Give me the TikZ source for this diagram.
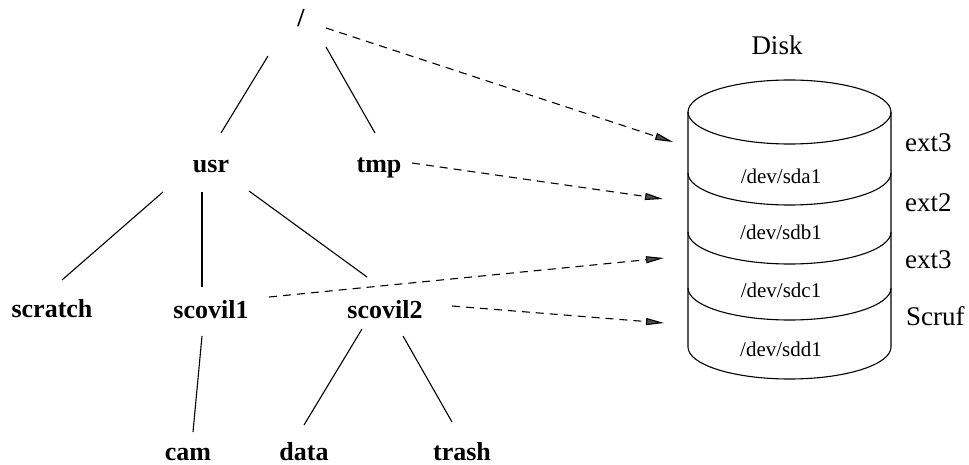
\documentclass[tikz,border=0pt]{standalone}
\usepackage{fontspec}
\setmainfont{Liberation Serif}
\usetikzlibrary{arrows.meta}
\begin{document}
\begin{tikzpicture}[x=1pt,y=-1pt,
  dir/.style={font=\bfseries\fontsize{26}{30}\selectfont, inner sep=0pt, anchor=base},
  part/.style={font=\fontsize{21}{25}\selectfont, inner sep=0pt, anchor=base},
  fstype/.style={font=\fontsize{27}{31}\selectfont, inner sep=0pt, anchor=base west},
  edge/.style={line width=1.1pt},
  diskline/.style={line width=1.1pt},
  mount/.style={line width=1.1pt, dash pattern=on 8pt off 6pt,
    -{Triangle[length=18pt,width=7pt,fill=black!70]}},
  sep/.style={start angle=180, end angle=360, x radius=101.5pt, y radius=32pt}]
\useasboundingbox (0,0) rectangle (969,465);

% directory tree
\node[dir] (root)    at (301,27)  {/};
\node[dir] (usr)     at (211,173) {usr};
\node[dir] (tmp)     at (379,173) {tmp};
\node[dir] (scratch) at (52,317)  {scratch};
\node[dir] (scovil1) at (211,318) {scovil1};
\node[dir] (scovil2) at (385,318) {scovil2};
\node[dir] (cam)     at (188,460) {cam};
\node[dir] (data)    at (304,460) {data};
\node[dir] (trash)   at (462,460) {trash};

\draw[edge] ([shift={(-33,29)}]root.base)   -- ([shift={(10,-40)}]usr.base);
\draw[edge] ([shift={(25,20)}]root.base)    -- ([shift={(-4,-40)}]tmp.base);
\draw[edge] ([shift={(-48,19)}]usr.base)    -- ([shift={(10,-37)}]scratch.base);
\draw[edge] ([shift={(-9,19)}]usr.base)     -- ([shift={(-9,-31)}]scovil1.base);
\draw[edge] ([shift={(38,18)}]usr.base)     -- ([shift={(-18,-41)}]scovil2.base);
\draw[edge] ([shift={(-9,18)}]scovil1.base) -- ([shift={(5,-28)}]cam.base);
\draw[edge] ([shift={(-23,11)}]scovil2.base)-- ([shift={(0,-35)}]data.base);
\draw[edge] ([shift={(18,18)}]scovil2.base) -- ([shift={(-10,-38)}]trash.base);

% disk with its four partitions
\node[fstype, anchor=base] (disk) at (777,55) {Disk};
\draw[diskline] (789.5,112) ellipse [x radius=101.5pt, y radius=32pt];
\draw[diskline] (688,112) -- (688,347) arc[sep] -- (891,112);
\draw[diskline] (688,173) arc[sep];
\draw[diskline] (688,232) arc[sep];
\draw[diskline] (688,288) arc[sep];

\node[part] (sda) at (781,184) {/dev/sda1};
\node[part] (sdb) at (781,240) {/dev/sdb1};
\node[part] (sdc) at (781,297) {/dev/sdc1};
\node[part] (sdd) at (781,356) {/dev/sdd1};

\node[fstype] (fsa) at (905,152) {ext3};
\node[fstype] (fsb) at (905,212) {ext2};
\node[fstype] (fsc) at (905,269) {ext3};
\node[fstype] (fsd) at (906,325) {Scruf};

% mount points
\coordinate (ina) at (673,142);
\coordinate (inb) at (663,199);
\coordinate (inc) at (664,258);
\coordinate (ind) at (664,323);
\draw[mount] ([shift={(25,1)}]root.base)     -- (ina);
\draw[mount] ([shift={(33,-10)}]tmp.base)    -- (inb);
\draw[mount] ([shift={(58,-21)}]scovil1.base)-- (inc);
\draw[mount] ([shift={(67,-12)}]scovil2.base)-- (ind);
\end{tikzpicture}
\end{document}
